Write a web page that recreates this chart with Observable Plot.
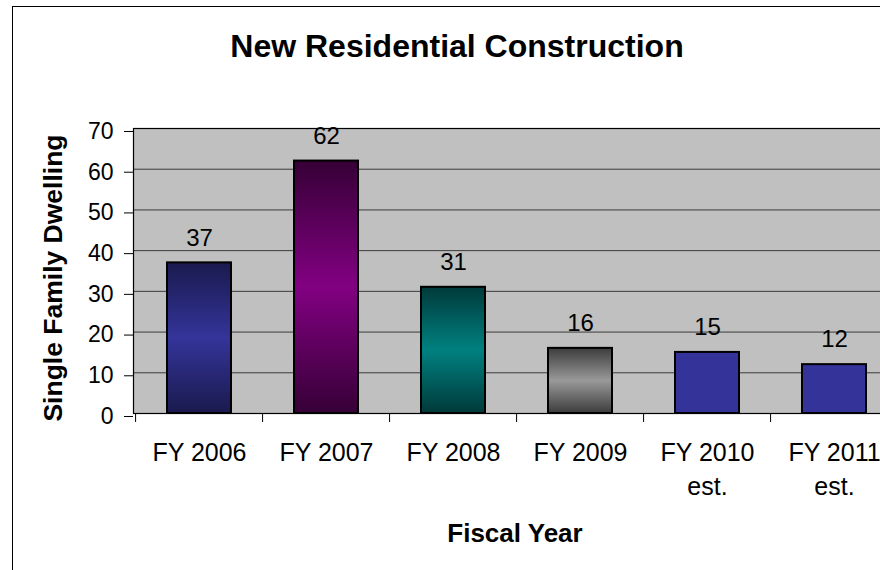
<!DOCTYPE html>
<html>
<head>
<meta charset="utf-8">
<script src="https://cdn.jsdelivr.net/npm/d3@7"></script>
<script src="https://cdn.jsdelivr.net/npm/@observablehq/plot@0.6"></script>
<style>
html, body { margin: 0; padding: 0; width: 880px; height: 570px; overflow: hidden; background: #fff; }
body { position: relative; font-family: Arial, "Liberation Sans", sans-serif; color: #000; }
#frame { position: absolute; left: 12px; top: 6px; width: 1000px; height: 700px; border: 1px solid #000; box-sizing: border-box; }
#title { position: absolute; left: 0; top: 30px; width: 914px; text-align: center; font-weight: bold; font-size: 32px; line-height: 32px; white-space: nowrap; }
#ytitle { position: absolute; left: -147px; top: 265px; width: 400px; text-align: center; font-weight: bold; font-size: 26.5px; line-height: 26px; transform: rotate(-90deg); white-space: nowrap; }
#xtitle { position: absolute; left: 315px; top: 520px; width: 400px; text-align: center; font-weight: bold; font-size: 26px; line-height: 26px; white-space: nowrap; }
#chart { position: absolute; left: 0; top: 0; width: 900px; height: 570px; }
#chart svg { max-width: none !important; }
</style>
</head>
<body>
<div id="frame"></div>
<div id="chart"></div>
<div id="title">New Residential Construction</div>
<div id="ytitle">Single Family Dwelling</div>
<div id="xtitle">Fiscal Year</div>
<script>
// ---- data ----
const categories = ["FY 2006", "FY 2007", "FY 2008", "FY 2009", "FY 2010 est.", "FY 2011 est."];
const tickLabels = ["FY 2006", "FY 2007", "FY 2008", "FY 2009", "FY 2010\nest.", "FY 2011\nest."];
const values = [37, 62, 31, 16, 15, 12];
const yTicks = [0, 10, 20, 30, 40, 50, 60, 70];

// ---- styles ----
const barFills = ["url(#gNavy)", "url(#gPurple)", "url(#gTeal)", "url(#gGray)", "#333399", "#333399"];
const gradients = [
  {id: "gNavy", edge: "#1a1a4e", mid: "#34349a"},
  {id: "gPurple", edge: "#360036", mid: "#820082"},
  {id: "gTeal", edge: "#003a3a", mid: "#008080"},
  {id: "gGray", edge: "#3c3c3c", mid: "#999999"}
];

const rows = categories.map((c, i) => ({cat: c, value: values[i], fill: barFills[i]}));

const W = 900, H = 570;
const mLeft = 133, mTop = 128, mBottom = H - 413, mRight = 0;
const step = (W - mLeft - mRight) / categories.length;

function defsMark() {
  const ns = "http://www.w3.org/2000/svg";
  const defs = document.createElementNS(ns, "defs");
  for (const g of gradients) {
    const lg = document.createElementNS(ns, "linearGradient");
    lg.setAttribute("id", g.id);
    lg.setAttribute("x1", "0"); lg.setAttribute("y1", "0");
    lg.setAttribute("x2", "0"); lg.setAttribute("y2", "1");
    [[0, g.edge], [0.5, g.mid], [1, g.edge]].forEach(([o, c]) => {
      const s = document.createElementNS(ns, "stop");
      s.setAttribute("offset", o);
      s.setAttribute("stop-color", c);
      lg.appendChild(s);
    });
    defs.appendChild(lg);
  }
  return defs;
}

const chart = Plot.plot({
  width: W,
  height: H,
  marginLeft: mLeft,
  marginTop: mTop,
  marginBottom: mBottom,
  marginRight: mRight,
  style: {fontFamily: 'Arial, "Liberation Sans", sans-serif', fontSize: "24px", background: "transparent", color: "#000", overflow: "visible", maxWidth: "none"},
  x: {domain: categories, paddingInner: 0.5, paddingOuter: 0.25, label: null},
  y: {domain: [0, 70], label: null},
  color: {type: "identity"},
  marks: [
    defsMark,
    Plot.frame({fill: "#c0c0c0", stroke: null}),
    Plot.gridY(yTicks, {stroke: "#3a3a3a", strokeOpacity: 1, strokeWidth: 1}),
    Plot.barY(rows, {x: "cat", y: "value", fill: "fill", stroke: "#000", strokeWidth: 2}),
    Plot.frame({stroke: "#000", strokeWidth: 1.2, fill: null}),
    Plot.axisY({ticks: yTicks, tickSize: 9, tickPadding: 11, fontSize: 23, dy: 3, label: null}),
    Plot.axisX({tickSize: 9, tickFormat: () => "", dx: -step / 2, label: null}),
    Plot.axisX({tickSize: 0, tickPadding: 23, fontSize: 25, lineHeight: 1.38, tickFormat: d => tickLabels[categories.indexOf(d)], label: null}),
    Plot.text(rows, {x: "cat", y: "value", text: d => String(d.value), dy: -25, fontSize: 24, fill: "#000"})
  ]
});
chart.style.maxWidth = "none";
chart.setAttribute("width", W);
chart.setAttribute("height", H);
document.getElementById("chart").appendChild(chart);
</script>
</body>
</html>
